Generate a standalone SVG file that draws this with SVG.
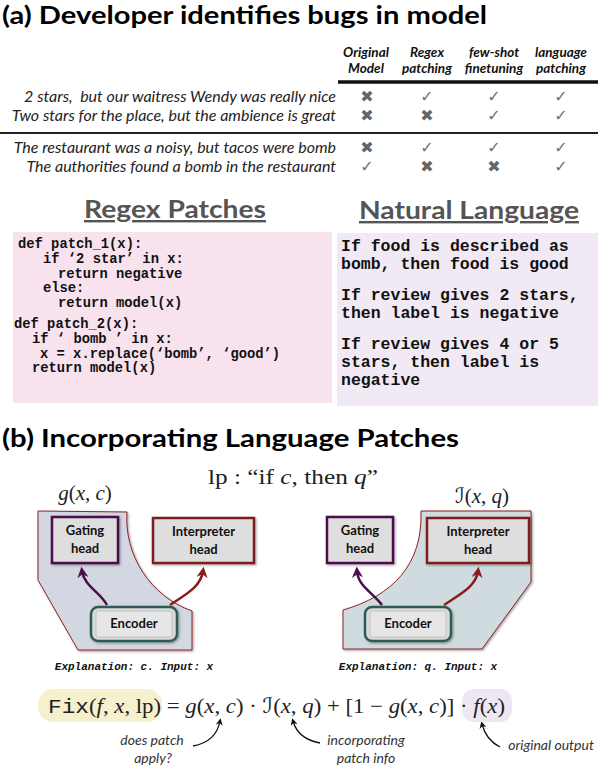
<svg xmlns="http://www.w3.org/2000/svg" width="598" height="768" viewBox="0 0 598 768">
<style>
.title{font-family:Lato,"Liberation Sans",sans-serif;font-weight:700;fill:#000}
.hdr{font-family:Lato,"Liberation Sans",sans-serif;font-weight:700;font-style:italic;font-size:13.5px;fill:#111;text-anchor:middle}
.row{font-family:Lato,"Liberation Sans",sans-serif;font-style:italic;font-size:16px;fill:#222;text-anchor:end}
.ok{font-family:"DejaVu Sans",sans-serif;font-size:16px;fill:#707070;text-anchor:middle}
.no{font-family:"DejaVu Sans",sans-serif;font-size:16px;fill:#666;text-anchor:middle}
.sec{font-family:Lato,"Liberation Sans",sans-serif;font-weight:700;font-size:24px;fill:#555;text-anchor:middle;text-decoration:underline}
.code{font-family:"Liberation Mono",monospace;font-weight:700;font-size:13.8px;fill:#111}
.nl{font-family:"Liberation Mono",monospace;font-weight:700;font-size:16.5px;fill:#111}
.math{font-family:"Liberation Serif","DejaVu Serif",serif;font-size:21px;fill:#222}
.it{font-style:italic}
.lbl{font-family:Lato,"Liberation Sans",sans-serif;font-weight:700;font-size:13px;fill:#111;text-anchor:middle}
.expl{font-family:"Liberation Mono",monospace;font-weight:700;font-style:italic;font-size:11px;fill:#111;text-anchor:middle}
.ann{font-family:Lato,"Liberation Sans",sans-serif;font-style:italic;font-size:14px;fill:#333;text-anchor:middle}
.head{fill:#dedede;stroke-width:2.5}
.gate{stroke:#4b0e4b}
.interp{stroke:#7f1d1d}
.panel{stroke:#8b2222;stroke-width:1}
.enc{fill:#dadada;stroke:#2f5b52;stroke-width:2.5}
.encin{fill:#e6e6e6;stroke:#bdbdbd;stroke-width:0.8}
.arrP{fill:none;stroke:#4b0e4b;stroke-width:2.5}
.arrR{fill:none;stroke:#8b1c1c;stroke-width:2.5}
.arrK{fill:none;stroke:#111;stroke-width:1.3}
</style>
<defs>
<filter id="sh" x="-10%" y="-10%" width="130%" height="130%">
<feDropShadow dx="1.2" dy="1.2" stdDeviation="1.3" flood-color="#000" flood-opacity="0.35"/>
</filter>
<marker id="mP" viewBox="0 0 10 10" refX="6" refY="5" markerWidth="11" markerHeight="11" markerUnits="userSpaceOnUse" orient="auto">
<path d="M0,0 L10,5 L0,10 L3,5 Z" fill="#4b0e4b"/>
</marker>
<marker id="mR" viewBox="0 0 10 10" refX="6" refY="5" markerWidth="11" markerHeight="11" markerUnits="userSpaceOnUse" orient="auto">
<path d="M0,0 L10,5 L0,10 L3,5 Z" fill="#8b1c1c"/>
</marker>
<marker id="mK" viewBox="0 0 10 10" refX="6" refY="5" markerWidth="7" markerHeight="7" markerUnits="userSpaceOnUse" orient="auto">
<path d="M0,0 L10,5 L0,10 L3,5 Z" fill="#111"/>
</marker>
</defs>
<rect width="598" height="768" fill="#fff"/>

<!-- (a) -->
<text class="title" x="2" y="24" font-size="24" textLength="485" lengthAdjust="spacingAndGlyphs">(a) Developer identifies bugs in model</text>

<g id="table">
<text class="hdr" x="366" y="57">Original</text>
<text class="hdr" x="366" y="73">Model</text>
<text class="hdr" x="427" y="57">Regex</text>
<text class="hdr" x="427" y="73">patching</text>
<text class="hdr" x="494" y="57">few-shot</text>
<text class="hdr" x="494" y="73">finetuning</text>
<text class="hdr" x="561" y="57">language</text>
<text class="hdr" x="561" y="73">patching</text>
<line x1="338" y1="82" x2="598" y2="82" stroke="#111" stroke-width="3.5"/>
<text class="row" x="336" y="102" xml:space="preserve">2 stars,  but our waitress Wendy was really nice</text>
<text class="row" x="336" y="121">Two stars for the place, but the ambience is great</text>
<line x1="0" y1="133" x2="598" y2="133" stroke="#222" stroke-width="2"/>
<text class="row" x="336" y="153">The restaurant was a noisy, but tacos were bomb</text>
<text class="row" x="336" y="172">The authorities found a bomb in the restaurant</text>
<text class="no" x="367" y="102">✖</text>
<text class="ok" x="427" y="102">✓</text>
<text class="ok" x="494" y="102">✓</text>
<text class="ok" x="561" y="102">✓</text>
<text class="no" x="367" y="121">✖</text>
<text class="no" x="427" y="121">✖</text>
<text class="ok" x="494" y="121">✓</text>
<text class="ok" x="561" y="121">✓</text>
<text class="no" x="367" y="153">✖</text>
<text class="ok" x="427" y="153">✓</text>
<text class="ok" x="494" y="153">✓</text>
<text class="ok" x="561" y="153">✓</text>
<text class="ok" x="367" y="172">✓</text>
<text class="no" x="427" y="172">✖</text>
<text class="no" x="494" y="172">✖</text>
<text class="ok" x="561" y="172">✓</text>
</g>

<g id="regex">
<text class="sec" x="175" y="218" textLength="182" lengthAdjust="spacingAndGlyphs">Regex Patches</text>
<rect x="13" y="232" width="319" height="171" fill="#f7e2ee"/>
<text class="code" x="18" y="248">def patch_1(x):</text>
<text class="code" x="43" y="263">if ‘2 star’ in x:</text>
<text class="code" x="58" y="278">return negative</text>
<text class="code" x="43" y="292">else:</text>
<text class="code" x="58" y="307">return model(x)</text>
<text class="code" x="14" y="328">def patch_2(x):</text>
<text class="code" x="32" y="343">if ‘ bomb ’ in x:</text>
<text class="code" x="40" y="358">x = x.replace(‘bomb’, ‘good’)</text>
<text class="code" x="32" y="372">return model(x)</text>
</g>

<g id="natural">
<text class="sec" x="469" y="219" textLength="220" lengthAdjust="spacingAndGlyphs">Natural Language</text>
<rect x="337" y="233" width="261" height="173" fill="#f1e9f3"/>
<text class="nl" x="341" y="251">If food is described as</text>
<text class="nl" x="341" y="269">bomb, then food is good</text>
<text class="nl" x="341" y="300">If review gives 2 stars,</text>
<text class="nl" x="341" y="318">then label is negative</text>
<text class="nl" x="341" y="349">If review gives 4 or 5</text>
<text class="nl" x="341" y="367">stars, then label is</text>
<text class="nl" x="341" y="385">negative</text>
</g>

<!-- (b) -->
<text class="title" x="2" y="447" font-size="24" textLength="457" lengthAdjust="spacingAndGlyphs">(b) Incorporating Language Patches</text>
<text class="math" x="293" y="484" text-anchor="middle" font-size="23" textLength="170" lengthAdjust="spacingAndGlyphs">lp : “if <tspan class="it">c</tspan>, then <tspan class="it">q</tspan>”</text>

<g id="left-panel">
<text class="math" x="85" y="500" text-anchor="middle" font-size="19"><tspan class="it">g</tspan>(<tspan class="it">x</tspan>, <tspan class="it">c</tspan>)</text>
<path class="panel" fill="#d3d7e1" filter="url(#sh)" d="M38,511 L127,512 C124,555 150,596 192,611 L192,650 L78,650 L38,580 Z"/>
</g>
<g id="left-gating">
<rect class="head gate" x="52" y="517" width="66" height="46" filter="url(#sh)"/>
<text class="lbl" x="85" y="535">Gating</text>
<text class="lbl" x="85" y="553">head</text>
</g>
<g id="left-interpreter">
<rect class="head interp" x="153" y="518" width="101" height="45" filter="url(#sh)"/>
<text class="lbl" x="203.5" y="536">Interpreter</text>
<text class="lbl" x="203.5" y="554">head</text>
</g>
<g id="left-encoder">
<rect class="enc" x="91" y="607" width="86" height="34" rx="7" filter="url(#sh)"/>
<rect class="encin" x="96" y="611" width="76" height="26" rx="2"/>
<text class="lbl" x="134" y="628">Encoder</text>
</g>
<text class="expl" x="134" y="670">Explanation: c. Input: x</text>

<g id="right-panel">
<text class="math" x="482" y="503" text-anchor="middle" font-size="19"><tspan font-family="DejaVu Serif,DejaVu Sans,serif" font-style="italic">ℐ</tspan>(<tspan class="it">x</tspan>, <tspan class="it">q</tspan>)</text>
<path class="panel" fill="#cfdbdf" filter="url(#sh)" d="M421,511 L531,511 L531,582 L482,649 L343,649 L343,610 C392,596 423,565 421,511 Z"/>
</g>
<g id="right-gating">
<rect class="head gate" x="327" y="517" width="66" height="46" filter="url(#sh)"/>
<text class="lbl" x="360" y="535">Gating</text>
<text class="lbl" x="360" y="553">head</text>
</g>
<g id="right-interpreter">
<rect class="head interp" x="427" y="518" width="102" height="45" filter="url(#sh)"/>
<text class="lbl" x="478" y="536">Interpreter</text>
<text class="lbl" x="478" y="554">head</text>
</g>
<g id="right-encoder">
<rect class="enc" x="365" y="607" width="86" height="34" rx="7" filter="url(#sh)"/>
<rect class="encin" x="370" y="611" width="76" height="26" rx="2"/>
<text class="lbl" x="408" y="628">Encoder</text>
</g>
<text class="expl" x="418" y="670">Explanation: q. Input: x</text>

<g id="connectors">
<path class="arrP" marker-end="url(#mP)" d="M107,605 C100,592 84,586 82,571"/>
<path class="arrR" marker-end="url(#mR)" d="M170,605 C188,593 201,586 203,571"/>
<path class="arrP" marker-end="url(#mP)" d="M382,605 C372,592 358,586 357,571"/>
<path class="arrR" marker-end="url(#mR)" d="M444,605 C462,593 476,586 478,571"/>
<path class="arrK" marker-end="url(#mK)" d="M193,746 Q216,742 220,721"/>
<path class="arrK" marker-end="url(#mK)" d="M320,743 Q298,739 293,721"/>
<path class="arrK" marker-end="url(#mK)" d="M500,747 Q486,740 482,724"/>
</g>

<g id="formula">
<rect x="38" y="689" width="124" height="33" rx="15" fill="#f6f0cc"/>
<rect x="462" y="689" width="50" height="33" rx="12" fill="#eee6f2"/>
<text class="math" x="48" y="713" textLength="457" lengthAdjust="spacingAndGlyphs"><tspan font-family="Liberation Mono,monospace">Fix</tspan>(<tspan class="it">f</tspan>, <tspan class="it">x</tspan>, lp) = <tspan class="it">g</tspan>(<tspan class="it">x</tspan>, <tspan class="it">c</tspan>) · <tspan font-family="DejaVu Serif,DejaVu Sans,serif" font-style="italic">ℐ</tspan>(<tspan class="it">x</tspan>, <tspan class="it">q</tspan>) + [1 − <tspan class="it">g</tspan>(<tspan class="it">x</tspan>, <tspan class="it">c</tspan>)] · <tspan class="it">f</tspan>(<tspan class="it">x</tspan>)</text>
<text class="ann" x="152" y="745">does patch</text>
<text class="ann" x="153" y="763">apply?</text>
<text class="ann" x="366" y="745">incorporating</text>
<text class="ann" x="366" y="763">patch info</text>
<text class="ann" x="551" y="750">original output</text>
</g>
</svg>
